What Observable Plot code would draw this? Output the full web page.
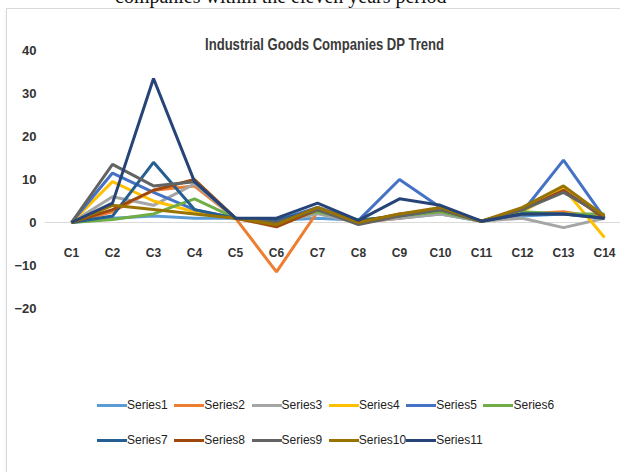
<!DOCTYPE html>
<html>
<head>
<meta charset="utf-8">
<script src="https://cdn.jsdelivr.net/npm/d3@7"></script>
<script src="https://cdn.jsdelivr.net/npm/@observablehq/plot@0.6"></script>
<style>
  html, body { margin: 0; padding: 0; background: #fff; }
  #page { position: relative; width: 620px; height: 472px; overflow: hidden; background: #fff; }
  #caption { position: absolute; left: 115px; top: -14px; font: 20px/20px "Liberation Serif", "Times New Roman", serif; color: #111; white-space: nowrap; }
  #box { position: absolute; left: 6px; top: 8px; width: 700px; height: 600px; border: 1px solid #d9d9d9; box-shadow: 0 2px 3px rgba(0,0,0,0.08); }
  #title { position: absolute; left: 205px; top: 35px; font: bold 17px/20px "Liberation Sans", Arial, sans-serif; color: #3a3a3a; white-space: nowrap; transform: scaleX(0.77); transform-origin: left top; }
  #chart { position: absolute; left: 0; top: 0; }
  #legend { position: absolute; left: 97px; top: 397px; display: grid; grid-template-columns: repeat(6, 77.3px); row-gap: 19px; font: 12px/16px "Liberation Sans", Arial, sans-serif; color: #222; }
  .item { display: flex; align-items: center; white-space: nowrap; }
  .swatch { width: 30px; height: 3px; margin-right: 0; }
</style>
</head>
<body>
<div id="page">
  <div id="caption">companies within the eleven years period</div>
  <div id="box"></div>
  <div id="title">Industrial Goods Companies DP Trend</div>
  <div id="chart"></div>
  <div id="legend"></div>
</div>
<script>
// Companies on the category axis
const companies = ["C1","C2","C3","C4","C5","C6","C7","C8","C9","C10","C11","C12","C13","C14"];

// DP values per series, one value per company
const series1  = [0, 1, 1.5, 1, 1, 0.5, 1, 0.5, 1, 2, 0.3, 1.5, 2, 1.5];
const series2  = [0, 2.5, 7.5, 8.5, 1, -11.5, 2.5, 0, 1, 2.5, 0.3, 2, 2.5, 1];
const series3  = [0, 6, 4, 9, 1, 0, 2, 0, 1, 2, 0.3, 1, -1.2, 1];
const series4  = [0, 9.5, 5, 2.5, 1, 0, 3, 0, 1.5, 3, 0.3, 2.5, 8, -3.5];
const series5  = [0, 11.5, 7, 3, 1, 0.5, 3.5, 0.5, 10, 3.5, 0.3, 2.5, 14.5, 1];
const series6  = [0, 0.7, 2, 5.5, 1, 0.5, 2.5, 0.5, 1.5, 2.5, 0.3, 2.5, 2, 2];
const series7  = [0, 1.5, 14, 3, 1, 0.5, 3, 0.5, 1.5, 3, 0.3, 2, 2, 1];
const series8  = [0, 3, 7.5, 10, 1, -1, 3, 0, 2, 3, 0.3, 3, 7.5, 1];
const series9  = [0, 13.5, 8.5, 9.5, 1, 0, 3, -0.5, 1.5, 3, 0.3, 3, 7, 1.5];
const series10 = [0, 4, 3, 2, 1, -0.5, 3.5, 0, 2, 3.5, 0.3, 3.5, 8.5, 1.5];
const series11 = [0, 4.5, 33.5, 9.5, 1, 1, 4.5, 0.5, 5.5, 4, 0.3, 2, 2, 1];

const seriesNames = ["Series1","Series2","Series3","Series4","Series5","Series6","Series7","Series8","Series9","Series10","Series11"];
const seriesColors = ["#5b9bd5","#ed7d31","#a5a5a5","#ffc000","#4472c4","#70ad47","#255e91","#9e480e","#636363","#997300","#264478"];
const yTicks = [-20, -10, 0, 10, 20, 30, 40];

const allSeries = [series1, series2, series3, series4, series5, series6, series7, series8, series9, series10, series11];
const rows = allSeries.flatMap((vals, i) =>
  vals.map((v, j) => ({series: seriesNames[i], company: companies[j], value: v}))
);
const zeroRow = companies.map(c => ({company: c, value: 0}));

const chart = Plot.plot({
  width: 620,
  height: 330,
  marginLeft: 45,
  marginRight: 0,
  marginTop: 0,
  marginBottom: 0,
  style: {fontFamily: "'Liberation Sans', Arial, sans-serif", fontSize: "12px", color: "#333", background: "transparent", overflow: "visible"},
  x: {type: "point", domain: companies, range: [66, 609], padding: 0, axis: null},
  y: {domain: [-20, 40], range: [308, 50], axis: null},
  color: {domain: seriesNames, range: seriesColors},
  marks: [
    Plot.ruleY([0], {stroke: "#d9d9d9", strokeWidth: 1}),
    Plot.axisY({ticks: yTicks, label: null, tickSize: 0, tickPadding: 9, fontSize: 13, fontWeight: "bold", fill: "#333"}),
    Plot.text(zeroRow, {x: "company", y: "value", text: "company", dy: 31, fontSize: 12, fontWeight: "bold", fill: "#333"}),
    Plot.line(rows, {x: "company", y: "value", z: "series", stroke: "series", strokeWidth: 3, strokeLinejoin: "miter", strokeLinecap: "butt"})
  ]
});
document.getElementById("chart").appendChild(chart);

const legend = document.getElementById("legend");
seriesNames.forEach((name, i) => {
  const item = document.createElement("div");
  item.className = "item";
  const sw = document.createElement("span");
  sw.className = "swatch";
  sw.style.background = seriesColors[i];
  const label = document.createElement("span");
  label.textContent = name;
  item.appendChild(sw);
  item.appendChild(label);
  legend.appendChild(item);
});
</script>
</body>
</html>
